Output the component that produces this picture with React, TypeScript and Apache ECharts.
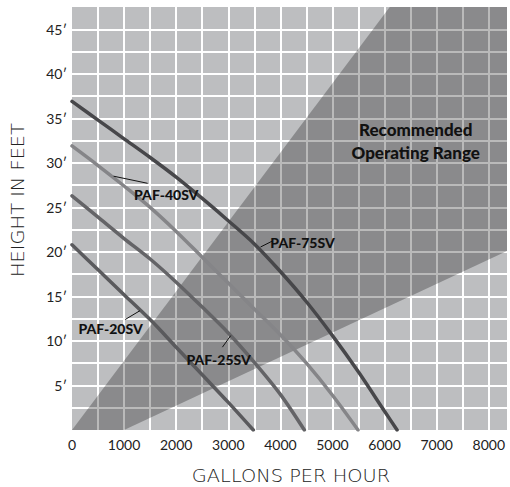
import { useEffect, useRef } from "react";
import * as echarts from "echarts";

// Pump curves: flow (gallons per hour) vs head (feet)
const flow75 = [0, 500, 1000, 1500, 2000, 2500, 3000, 3500, 4000, 4500, 5000, 5500, 6000, 6240];
const head75 = [36.9, 34.8, 32.7, 30.6, 28.4, 26.0, 23.5, 20.9, 17.8, 14.4, 10.6, 6.5, 2.1, 0];
const flow40 = [0, 500, 1000, 1500, 2000, 2500, 3000, 3500, 4000, 4500, 5000, 5490];
const head40 = [31.9, 29.7, 27.4, 25.0, 22.3, 19.4, 16.5, 13.6, 10.7, 7.5, 3.9, 0];
const flow25 = [0, 500, 1000, 1500, 2000, 2500, 3000, 3500, 4000, 4460];
const head25 = [26.3, 23.9, 21.5, 19.2, 16.6, 13.8, 10.9, 7.6, 4.0, 0];
const flow20 = [0, 500, 1000, 1500, 2000, 2500, 3000, 3480];
const head20 = [20.8, 18.0, 15.2, 12.4, 9.3, 6.2, 3.1, 0];

// Recommended operating range wedge (data coordinates)
const rangeFlow = [0, 6100, 8350, 8350, 1000];
const rangeHead = [0, 47.5, 47.5, 20.1, 0];

const seriesNames = ["PAF-75SV", "PAF-40SV", "PAF-25SV", "PAF-20SV"];
const seriesColors = ["#47474a", "#858588", "#646467", "#5a5a5d"];

// Curve labels: label centre and leader line (data coordinates)
const labelNames = ["PAF-40SV", "PAF-75SV", "PAF-20SV", "PAF-25SV"];
const labelFlow = [1809, 4425, 741, 2815];
const labelHead = [26.5, 21.0, 11.4, 7.9];
const leaderFromFlow = [799, 3619, 1020, 2887];
const leaderFromHead = [28.5, 20.55, 12.4, 9.3];
const leaderToFlow = [1452, 3840, 1305, 3047];
const leaderToHead = [27.7, 21.2, 13.4, 10.6];

const rangeTitle = ["Recommended", "Operating Range"];
const rangeTitleFlow = 6598;
const rangeTitleHead = [33.7, 31.2];

const xTitle = "GALLONS PER HOUR";
const yTitle = "HEIGHT IN FEET";

export default function App() {
  const ref = useRef<HTMLDivElement>(null);
  useEffect(() => {
    document.body.style.margin = "0";
    const chart = echarts.init(ref.current!, null, { renderer: "svg" });
    const curves = [
      [flow75, head75],
      [flow40, head40],
      [flow25, head25],
      [flow20, head20],
    ];
    chart.setOption({
      animation: false,
      textStyle: { fontFamily: "Lato" },
      grid: {
        left: 72,
        right: 0,
        top: 7,
        bottom: 57,
        show: true,
        backgroundColor: "#bdbec0",
        borderWidth: 0,
      },
      xAxis: {
        type: "value",
        min: 0,
        max: 8350,
        interval: 500,
        axisLine: { show: false },
        axisTick: { show: false },
        splitLine: {
          show: true,
          showMinLine: false,
          showMaxLine: false,
          lineStyle: { color: "#ffffff", width: 2 },
        },
        axisLabel: {
          color: "#222",
          fontSize: 14,
          fontFamily: "Lato",
          margin: 7,
          formatter: (v: number) => (v % 1000 === 0 && v <= 8000 ? String(v) : ""),
        },
      },
      yAxis: {
        type: "value",
        min: 0,
        max: 47.5,
        interval: 2.5,
        axisLine: { show: false },
        axisTick: { show: false },
        splitLine: {
          show: true,
          showMinLine: false,
          showMaxLine: false,
          lineStyle: { color: "#ffffff", width: 2 },
        },
        axisLabel: {
          color: "#222",
          fontSize: 14,
          fontFamily: "Lato",
          margin: 5,
          formatter: (v: number) => (v % 5 === 0 && v > 0 && v < 47 ? v + "\u2032" : ""),
        },
      },
      series: [
        {
          type: "custom",
          z: 1,
          silent: true,
          clip: true,
          data: [[0, 0]],
          renderItem: (_p: any, api: any) => ({
            type: "polygon",
            shape: {
              points: rangeFlow.map((f, i) => api.coord([f, rangeHead[i]])),
            },
            style: { fill: "rgba(0,0,0,0.27)" },
          }),
        },
        ...curves.map((c, k) => ({
          type: "line",
          name: seriesNames[k],
          z: 3,
          smooth: 0.3,
          showSymbol: false,
          silent: true,
          data: c[0].map((f, i) => [f, c[1][i]]),
          lineStyle: { color: seriesColors[k], width: 3.5, cap: "round" },
        })),
      ],
    });

    const px = (f: number, h: number) =>
      chart.convertToPixel({ gridIndex: 0 }, [f, h]) as number[];

    const graphics: any[] = [];
    labelNames.forEach((name, i) => {
      const a = px(leaderFromFlow[i], leaderFromHead[i]);
      const b = px(leaderToFlow[i], leaderToHead[i]);
      graphics.push({
        type: "line",
        z: 10,
        shape: { x1: a[0], y1: a[1], x2: b[0], y2: b[1] },
        style: { stroke: "#111", lineWidth: 1 },
      });
      const c = px(labelFlow[i], labelHead[i]);
      graphics.push({
        type: "text",
        z: 10,
        x: c[0],
        y: c[1],
        style: {
          text: name,
          fill: "#111",
          font: "900 14px Lato",
          align: "center",
          verticalAlign: "middle",
        },
      });
    });
    rangeTitle.forEach((t, i) => {
      const c = px(rangeTitleFlow, rangeTitleHead[i]);
      graphics.push({
        type: "text",
        z: 10,
        x: c[0],
        y: c[1],
        style: {
          text: t,
          fill: "#111",
          font: "900 17px Lato",
          align: "center",
          verticalAlign: "middle",
        },
      });
    });
    graphics.push({
      type: "text",
      x: 291,
      y: 476,
      scaleX: 1.14,
      style: {
        text: xTitle,
        fill: "#222",
        font: "200 17px 'DejaVu Sans'",
        align: "center",
        verticalAlign: "middle",
      },
    });
    graphics.push({
      type: "text",
      x: 18,
      y: 200,
      rotation: Math.PI / 2,
      scaleX: 1.14,
      style: {
        text: yTitle,
        fill: "#222",
        font: "200 17px 'DejaVu Sans'",
        align: "center",
        verticalAlign: "middle",
      },
    });
    chart.setOption({ graphic: graphics });

    return () => chart.dispose();
  }, []);
  return <div ref={ref} style={{ width: 510, height: 487 }} />;
}
